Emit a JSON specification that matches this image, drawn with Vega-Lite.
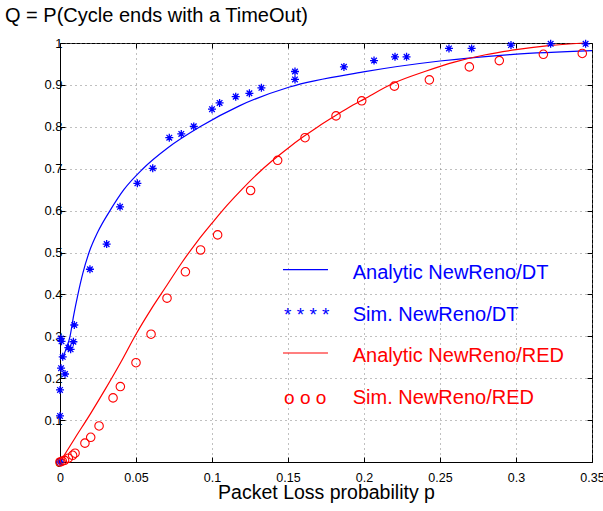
{
  "$schema": "https://vega.github.io/schema/vega-lite/v6.json",
  "width": 532,
  "height": 419,
  "autosize": "none",
  "padding": {"left": 60, "top": 43, "right": 11, "bottom": 49},
  "background": "white",
  "config": {
    "font": "Liberation Sans",
    "view": {"stroke": "black", "strokeWidth": 1},
    "axis": {
      "domainColor": "black",
      "domainWidth": 1,
      "tickColor": "black",
      "tickWidth": 1,
      "labelColor": "black",
      "labelFont": "Liberation Sans",
      "labelFontSize": 13,
      "titleFont": "Liberation Sans",
      "titleFontWeight": "normal",
      "titleColor": "black",
      "gridColor": "#808080",
      "gridDash": [1, 4],
      "gridWidth": 1,
      "gridOpacity": 1
    }
  },
  "title": {
    "text": "Q = P(Cycle ends with a TimeOut)",
    "anchor": "start",
    "frame": "group",
    "dx": -55,
    "offset": -5,
    "baseline": "alphabetic",
    "fontSize": 20,
    "fontWeight": "normal",
    "font": "Liberation Sans",
    "color": "black"
  },
  "datasets": {
    "curves": [
      {"series": "Analytic NewReno/DT", "p": 0.002, "q": 0.25},
      {"series": "Analytic NewReno/DT", "p": 0.004, "q": 0.27},
      {"series": "Analytic NewReno/DT", "p": 0.0066, "q": 0.30},
      {"series": "Analytic NewReno/DT", "p": 0.009, "q": 0.35},
      {"series": "Analytic NewReno/DT", "p": 0.0118, "q": 0.40},
      {"series": "Analytic NewReno/DT", "p": 0.015, "q": 0.45},
      {"series": "Analytic NewReno/DT", "p": 0.0191, "q": 0.50},
      {"series": "Analytic NewReno/DT", "p": 0.025, "q": 0.55},
      {"series": "Analytic NewReno/DT", "p": 0.0329, "q": 0.60},
      {"series": "Analytic NewReno/DT", "p": 0.042, "q": 0.65},
      {"series": "Analytic NewReno/DT", "p": 0.0546, "q": 0.70},
      {"series": "Analytic NewReno/DT", "p": 0.071, "q": 0.75},
      {"series": "Analytic NewReno/DT", "p": 0.0921, "q": 0.80},
      {"series": "Analytic NewReno/DT", "p": 0.118, "q": 0.85},
      {"series": "Analytic NewReno/DT", "p": 0.151, "q": 0.895},
      {"series": "Analytic NewReno/DT", "p": 0.1996, "q": 0.931},
      {"series": "Analytic NewReno/DT", "p": 0.25, "q": 0.957},
      {"series": "Analytic NewReno/DT", "p": 0.2982, "q": 0.973},
      {"series": "Analytic NewReno/DT", "p": 0.35, "q": 0.982},
      {"series": "Analytic NewReno/RED", "p": 0, "q": 0},
      {"series": "Analytic NewReno/RED", "p": 0.01, "q": 0.058},
      {"series": "Analytic NewReno/RED", "p": 0.02, "q": 0.115},
      {"series": "Analytic NewReno/RED", "p": 0.03, "q": 0.175},
      {"series": "Analytic NewReno/RED", "p": 0.04, "q": 0.238},
      {"series": "Analytic NewReno/RED", "p": 0.05, "q": 0.305},
      {"series": "Analytic NewReno/RED", "p": 0.06, "q": 0.365},
      {"series": "Analytic NewReno/RED", "p": 0.07, "q": 0.42},
      {"series": "Analytic NewReno/RED", "p": 0.08, "q": 0.475},
      {"series": "Analytic NewReno/RED", "p": 0.09, "q": 0.525},
      {"series": "Analytic NewReno/RED", "p": 0.1, "q": 0.57},
      {"series": "Analytic NewReno/RED", "p": 0.11, "q": 0.613},
      {"series": "Analytic NewReno/RED", "p": 0.12, "q": 0.652},
      {"series": "Analytic NewReno/RED", "p": 0.13, "q": 0.688},
      {"series": "Analytic NewReno/RED", "p": 0.14, "q": 0.72},
      {"series": "Analytic NewReno/RED", "p": 0.15, "q": 0.749},
      {"series": "Analytic NewReno/RED", "p": 0.16, "q": 0.776},
      {"series": "Analytic NewReno/RED", "p": 0.17, "q": 0.801},
      {"series": "Analytic NewReno/RED", "p": 0.18, "q": 0.824},
      {"series": "Analytic NewReno/RED", "p": 0.19, "q": 0.846},
      {"series": "Analytic NewReno/RED", "p": 0.2, "q": 0.866},
      {"series": "Analytic NewReno/RED", "p": 0.22, "q": 0.905},
      {"series": "Analytic NewReno/RED", "p": 0.24, "q": 0.932},
      {"series": "Analytic NewReno/RED", "p": 0.26, "q": 0.955},
      {"series": "Analytic NewReno/RED", "p": 0.28, "q": 0.972},
      {"series": "Analytic NewReno/RED", "p": 0.3, "q": 0.984},
      {"series": "Analytic NewReno/RED", "p": 0.32, "q": 0.993},
      {"series": "Analytic NewReno/RED", "p": 0.345, "q": 1.0}
    ],
    "simdt": [
      {"series": "Sim. NewReno/DT", "p": 0, "q": 0},
      {"series": "Sim. NewReno/DT", "p": 0, "q": 0.11},
      {"series": "Sim. NewReno/DT", "p": 0, "q": 0.172},
      {"series": "Sim. NewReno/DT", "p": 0.0007, "q": 0.224},
      {"series": "Sim. NewReno/DT", "p": 0.0033, "q": 0.21},
      {"series": "Sim. NewReno/DT", "p": 0.0018, "q": 0.251},
      {"series": "Sim. NewReno/DT", "p": 0.0005, "q": 0.295},
      {"series": "Sim. NewReno/DT", "p": 0.001, "q": 0.288},
      {"series": "Sim. NewReno/DT", "p": 0.0055, "q": 0.273},
      {"series": "Sim. NewReno/DT", "p": 0.007, "q": 0.269},
      {"series": "Sim. NewReno/DT", "p": 0.0088, "q": 0.287},
      {"series": "Sim. NewReno/DT", "p": 0.0094, "q": 0.327},
      {"series": "Sim. NewReno/DT", "p": 0.0197, "q": 0.46},
      {"series": "Sim. NewReno/DT", "p": 0.0307, "q": 0.52},
      {"series": "Sim. NewReno/DT", "p": 0.0395, "q": 0.609},
      {"series": "Sim. NewReno/DT", "p": 0.0509, "q": 0.665},
      {"series": "Sim. NewReno/DT", "p": 0.061, "q": 0.701},
      {"series": "Sim. NewReno/DT", "p": 0.0719, "q": 0.774},
      {"series": "Sim. NewReno/DT", "p": 0.0798, "q": 0.783},
      {"series": "Sim. NewReno/DT", "p": 0.088, "q": 0.801},
      {"series": "Sim. NewReno/DT", "p": 0.1, "q": 0.842},
      {"series": "Sim. NewReno/DT", "p": 0.105, "q": 0.857},
      {"series": "Sim. NewReno/DT", "p": 0.1156, "q": 0.872},
      {"series": "Sim. NewReno/DT", "p": 0.1246, "q": 0.88},
      {"series": "Sim. NewReno/DT", "p": 0.1325, "q": 0.893},
      {"series": "Sim. NewReno/DT", "p": 0.1546, "q": 0.913},
      {"series": "Sim. NewReno/DT", "p": 0.1546, "q": 0.932},
      {"series": "Sim. NewReno/DT", "p": 0.1868, "q": 0.943},
      {"series": "Sim. NewReno/DT", "p": 0.2066, "q": 0.958},
      {"series": "Sim. NewReno/DT", "p": 0.2204, "q": 0.967},
      {"series": "Sim. NewReno/DT", "p": 0.228, "q": 0.967},
      {"series": "Sim. NewReno/DT", "p": 0.2559, "q": 0.987},
      {"series": "Sim. NewReno/DT", "p": 0.2708, "q": 0.987},
      {"series": "Sim. NewReno/DT", "p": 0.2967, "q": 0.995},
      {"series": "Sim. NewReno/DT", "p": 0.3228, "q": 0.998},
      {"series": "Sim. NewReno/DT", "p": 0.3458, "q": 0.998}
    ],
    "simred": [
      {"series": "Sim. NewReno/RED", "p": 0, "q": 0},
      {"series": "Sim. NewReno/RED", "p": 0.0015, "q": 0.002},
      {"series": "Sim. NewReno/RED", "p": 0.003, "q": 0.004},
      {"series": "Sim. NewReno/RED", "p": 0.0055, "q": 0.009},
      {"series": "Sim. NewReno/RED", "p": 0.0083, "q": 0.016},
      {"series": "Sim. NewReno/RED", "p": 0.0099, "q": 0.021},
      {"series": "Sim. NewReno/RED", "p": 0.0164, "q": 0.045},
      {"series": "Sim. NewReno/RED", "p": 0.0202, "q": 0.059},
      {"series": "Sim. NewReno/RED", "p": 0.0257, "q": 0.086},
      {"series": "Sim. NewReno/RED", "p": 0.0349, "q": 0.153},
      {"series": "Sim. NewReno/RED", "p": 0.0397, "q": 0.18},
      {"series": "Sim. NewReno/RED", "p": 0.05, "q": 0.237},
      {"series": "Sim. NewReno/RED", "p": 0.0599, "q": 0.305},
      {"series": "Sim. NewReno/RED", "p": 0.0704, "q": 0.391},
      {"series": "Sim. NewReno/RED", "p": 0.0825, "q": 0.454},
      {"series": "Sim. NewReno/RED", "p": 0.0925, "q": 0.506},
      {"series": "Sim. NewReno/RED", "p": 0.1037, "q": 0.542},
      {"series": "Sim. NewReno/RED", "p": 0.1254, "q": 0.648},
      {"series": "Sim. NewReno/RED", "p": 0.1432, "q": 0.72},
      {"series": "Sim. NewReno/RED", "p": 0.1612, "q": 0.774},
      {"series": "Sim. NewReno/RED", "p": 0.1816, "q": 0.826},
      {"series": "Sim. NewReno/RED", "p": 0.1985, "q": 0.862},
      {"series": "Sim. NewReno/RED", "p": 0.22, "q": 0.897},
      {"series": "Sim. NewReno/RED", "p": 0.243, "q": 0.912},
      {"series": "Sim. NewReno/RED", "p": 0.2693, "q": 0.943},
      {"series": "Sim. NewReno/RED", "p": 0.289, "q": 0.958},
      {"series": "Sim. NewReno/RED", "p": 0.318, "q": 0.973},
      {"series": "Sim. NewReno/RED", "p": 0.3436, "q": 0.975}
    ],
    "legend": [
      {"series": "Analytic NewReno/DT", "kind": "line", "q": 0.452, "sym": ""},
      {"series": "Sim. NewReno/DT", "kind": "sym", "q": 0.352, "sym": "* * * *"},
      {"series": "Analytic NewReno/RED", "kind": "line", "q": 0.253, "sym": ""},
      {"series": "Sim. NewReno/RED", "kind": "sym", "q": 0.153, "sym": "o o o"}
    ]
  },
  "resolve": {"axis": {"x": "independent", "y": "independent"}},
  "layer": [
    {
      "data": {"name": "curves"},
      "mark": {"type": "line", "strokeWidth": 1.2, "interpolate": "monotone"},
      "encoding": {
        "x": {
          "field": "p", "type": "quantitative",
          "scale": {"domain": [0, 0.35], "nice": false, "zero": false},
          "axis": {
            "orient": "bottom",
            "values": [0, 0.05, 0.1, 0.15, 0.2, 0.25, 0.3, 0.35],
            "format": "~g",
            "grid": true,
            "tickSize": -5,
            "labelPadding": 14,
            "labelFontSize": 12.5,
            "labelFlush": false,
            "title": "Packet Loss probability p",
            "titleFontSize": 19.5,
            "titlePadding": 0
          }
        },
        "y": {
          "field": "q", "type": "quantitative",
          "scale": {"domain": [0, 1], "nice": false, "zero": false},
          "axis": {
            "orient": "left",
            "values": [0, 0.1, 0.2, 0.3, 0.4, 0.5, 0.6, 0.7, 0.8, 0.9, 1],
            "format": "~g",
            "grid": true,
            "tickSize": -5,
            "labelPadding": 3,
            "labelFlush": false,
            "title": null
          }
        },
        "color": {
          "field": "series", "type": "nominal", "legend": null,
          "scale": {
            "domain": ["Analytic NewReno/DT", "Sim. NewReno/DT", "Analytic NewReno/RED", "Sim. NewReno/RED"],
            "range": ["#0000ff", "#0000ff", "#ff0000", "#ff0000"]
          }
        }
      }
    },
    {
      "data": {"name": "curves"},
      "mark": {"type": "line", "opacity": 0},
      "encoding": {
        "x": {
          "field": "p", "type": "quantitative",
          "axis": {
            "orient": "top",
            "values": [0, 0.05, 0.1, 0.15, 0.2, 0.25, 0.3, 0.35],
            "labels": false, "grid": false, "domain": false,
            "tickSize": -5, "title": null
          }
        },
        "y": {
          "field": "q", "type": "quantitative",
          "axis": {
            "orient": "right",
            "values": [0, 0.1, 0.2, 0.3, 0.4, 0.5, 0.6, 0.7, 0.8, 0.9, 1],
            "labels": false, "grid": false, "domain": false,
            "tickSize": -5, "title": null
          }
        },
        "detail": {"field": "series"}
      }
    },
    {
      "data": {"name": "simdt"},
      "mark": {
        "type": "point",
        "shape": "M-1,0L1,0M0,-1L0,1M-0.7,-0.7L0.7,0.7M-0.7,0.7L0.7,-0.7",
        "filled": false,
        "size": 64,
        "strokeWidth": 1.3,
        "opacity": 1
      },
      "encoding": {
        "x": {"field": "p", "type": "quantitative", "axis": null},
        "y": {"field": "q", "type": "quantitative", "axis": null},
        "color": {"field": "series", "type": "nominal", "legend": null}
      }
    },
    {
      "data": {"name": "simred"},
      "mark": {"type": "point", "shape": "circle", "filled": false, "size": 72, "strokeWidth": 1.1, "opacity": 1},
      "encoding": {
        "x": {"field": "p", "type": "quantitative", "axis": null},
        "y": {"field": "q", "type": "quantitative", "axis": null},
        "color": {"field": "series", "type": "nominal", "legend": null}
      }
    },
    {
      "data": {"name": "legend"},
      "transform": [{"filter": "datum.kind === 'line'"}],
      "mark": {"type": "rule", "strokeWidth": 1.2, "yOffset": -3},
      "encoding": {
        "x": {"datum": 0.1467, "type": "quantitative", "axis": null},
        "x2": {"datum": 0.1763},
        "y": {"field": "q", "type": "quantitative", "axis": null},
        "color": {"field": "series", "type": "nominal", "legend": null}
      }
    },
    {
      "data": {"name": "legend"},
      "transform": [{"filter": "datum.kind === 'sym'"}],
      "mark": {"type": "text", "align": "left", "baseline": "middle", "fontSize": 19, "font": "Liberation Sans"},
      "encoding": {
        "x": {"datum": 0.1474, "type": "quantitative", "axis": null},
        "y": {"field": "q", "type": "quantitative", "axis": null},
        "yOffset": {"field": "series", "type": "nominal", "scale": {"domain": ["Sim. NewReno/DT", "Sim. NewReno/RED"], "range": [-5, 0]}, "legend": null},
        "text": {"field": "sym"},
        "color": {"field": "series", "type": "nominal", "legend": null}
      }
    },
    {
      "data": {"name": "legend"},
      "mark": {"type": "text", "align": "left", "baseline": "middle", "fontSize": 20, "font": "Liberation Sans"},
      "encoding": {
        "x": {"datum": 0.1926, "type": "quantitative", "axis": null},
        "y": {"field": "q", "type": "quantitative", "axis": null},
        "text": {"field": "series"},
        "color": {"field": "series", "type": "nominal", "legend": null}
      }
    }
  ]
}
